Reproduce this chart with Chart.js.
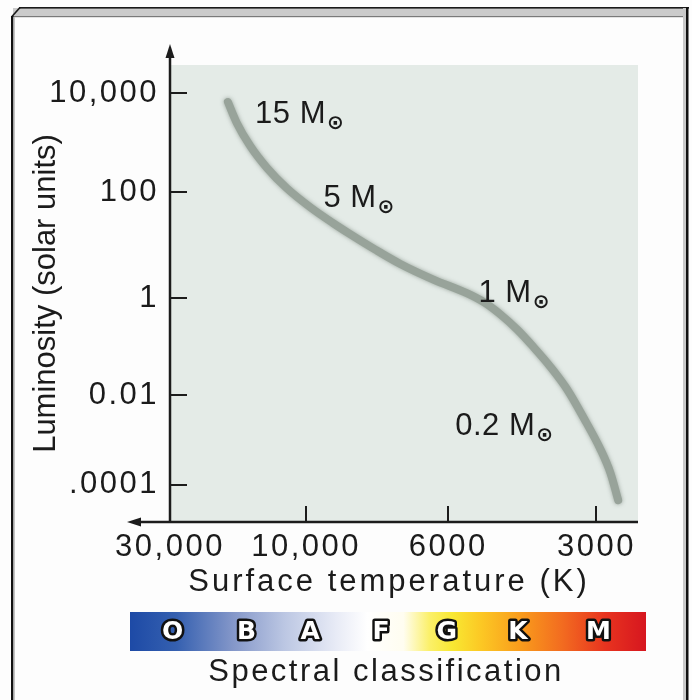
<!DOCTYPE html>
<html><head><meta charset="utf-8">
<script src="https://cdn.jsdelivr.net/npm/chart.js@4/dist/chart.umd.min.js"></script>
<style>html,body{margin:0;padding:0;background:#fdfdfd;}canvas{display:block;}</style>
</head><body>
<canvas id="c" width="692" height="700"></canvas>
<script>
// ---------------- data ----------------
const temperatures = [18800,17500,15700,13700,11700,9860,9080,8540,7800,7130,6330,5490,5090,4700,4340,4030,3720,3440,3190,2940,2810,2710];
const luminosities = [6600,2500,850,305,120,52,26,16.1,8.2,4.4,2.23,1.22,0.83,0.457,0.22,0.098,0.038,0.013,0.0032,0.0006,0.000185,0.000046];
const xTickTemps = [30000,10000,6000,3000];
const xTickLabels = ['30,000','10,000','6000','3000'];
const yTickLums = [10000,100,1,0.01,0.0001];
const yTickLabels = ['10,000','100','1','0.01','.0001'];
const massLabels = ['15','5','1','0.2'];
const spectralClasses = ['O','B','A','F','G','K','M'];

// ---------------- axis transforms (hand-drawn, non-uniform axes) ----------------
function piecewise(ins, outs){
  const n = ins.length, dir = Math.sign(ins[n-1]-ins[0]);
  return v => {
    let i = 0;
    while (i < n-2 && (v - ins[i+1]) * dir > 0) i++;
    const t = (v - ins[i]) / (ins[i+1] - ins[i]);
    return outs[i] + t * (outs[i+1] - outs[i]);
  };
}
const xMap = piecewise(xTickTemps.map(Math.log10), [0, 1, 2.044, 3.132]);
const yMap = piecewise(yTickLums.slice().reverse().map(Math.log10), [0, 0.909, 1.889, 2.960, 3.960]);
const fx = T => xMap(Math.log10(T));
const fy = L => yMap(Math.log10(L));

const FONT = '"Liberation Sans", Arial, sans-serif';
const TXT = '#1b1b1b';

const decor = {
  id: 'decor',
  afterUpdate(chart){
    const s = chart.scales.y;
    if (s && !s._noSpacing){
      const orig = s.drawTitle.bind(s);
      s.drawTitle = function(){ const c=this.ctx; const p=c.letterSpacing; c.letterSpacing='0px'; orig(); c.letterSpacing=p; };
      s._noSpacing = true;
    }
  },
  beforeDraw(chart){
    const {ctx, chartArea:a} = chart;
    ctx.save();
    ctx.fillStyle = '#fdfdfd'; ctx.fillRect(0,0,692,700);
    ctx.fillStyle = '#e4ebe7'; ctx.fillRect(a.left+1, a.top, a.right-a.left-1, a.bottom-a.top);
    ctx.fillStyle = '#cbcbcb'; ctx.fillRect(13,8,675,8);
    ctx.fillStyle = '#1a1a1a'; ctx.fillRect(19,7,670,1.6);
    ctx.strokeStyle = '#1a1a1a'; ctx.lineWidth = 1.6;
    ctx.beginPath(); ctx.moveTo(11.5,17); ctx.lineTo(20,7.5); ctx.stroke();
    ctx.fillStyle = '#7a7a7a'; ctx.fillRect(13,16,673,1.2);
    ctx.fillStyle = '#111'; ctx.fillRect(11,16,2.5,684);
    ctx.fillStyle = '#c4c4c4'; ctx.fillRect(13.5,17,1.5,683);
    ctx.fillStyle = '#c8c8c8'; ctx.fillRect(683,8,3,692);
    ctx.fillStyle = '#111'; ctx.fillRect(686,7,2.5,693);
    ctx.restore();
    ctx.letterSpacing = '2.5px';
  },
  beforeDatasetDraw(chart){
    const ctx = chart.ctx; ctx.save();
    ctx.shadowColor = 'rgba(120,132,122,0.7)'; ctx.shadowBlur = 4;
  },
  afterDatasetDraw(chart){ chart.ctx.restore(); },
  afterDraw(chart, args, o){
    const {ctx, chartArea:a, scales:{x, y}} = chart;
    ctx.save();
    ctx.letterSpacing = '0px';
    ctx.strokeStyle = '#1c1c1c'; ctx.fillStyle = '#1c1c1c'; ctx.lineWidth = 2.5;
    ctx.beginPath(); ctx.moveTo(a.left, a.bottom); ctx.lineTo(a.left, a.top-10); ctx.stroke();
    ctx.beginPath(); ctx.moveTo(a.left, a.top-21); ctx.lineTo(a.left-4.5, a.top-7); ctx.lineTo(a.left+4.5, a.top-7); ctx.closePath(); ctx.fill();
    ctx.beginPath(); ctx.moveTo(a.right, a.bottom); ctx.lineTo(a.left-32, a.bottom); ctx.stroke();
    ctx.beginPath(); ctx.moveTo(a.left-43, a.bottom); ctx.lineTo(a.left-29, a.bottom-4.5); ctx.lineTo(a.left-29, a.bottom+4.5); ctx.closePath(); ctx.fill();
    ctx.lineWidth = 2;
    xTickTemps.forEach((t,i)=>{ if(i===0) return; const px = Math.round(x.getPixelForValue(fx(t)));
      ctx.beginPath(); ctx.moveTo(px, a.bottom); ctx.lineTo(px, a.bottom-16); ctx.stroke(); });
    yTickLums.forEach(l=>{ const py = Math.round(y.getPixelForValue(fy(l)));
      ctx.beginPath(); ctx.moveTo(a.left, py); ctx.lineTo(a.left+17, py); ctx.stroke(); });
    // mass labels
    o.massAnchors.forEach((p,i)=>{
      const px = x.getPixelForValue(fx(p.t)), py = y.getPixelForValue(fy(p.l));
      ctx.font = '31px ' + FONT; ctx.fillStyle = TXT; ctx.textAlign='left'; ctx.textBaseline='alphabetic';
      ctx.letterSpacing = '0.5px';
      const s = massLabels[i] + ' M';
      ctx.fillText(s, px, py);
      const w = ctx.measureText(s).width;
      ctx.letterSpacing = '0px';
      ctx.font = 'bold 20px "DejaVu Sans"';
      ctx.fillText('\u2299', px + w + 1, py + 6);
    });
    // x axis title
    ctx.font = '31px ' + FONT; ctx.fillStyle = TXT; ctx.textAlign='center'; ctx.textBaseline='alphabetic';
    ctx.letterSpacing = '3px';
    ctx.fillText('Surface temperature (K)', 389, 591);
    // spectral bar
    const bx = 130, bw = 516, by = 612, bh = 39;
    const g = ctx.createLinearGradient(bx,0,bx+bw,0);
    [[0,'#1d4aa6'],[0.09,'#3560b0'],[0.2,'#8497c9'],[0.3,'#bcc7e3'],[0.4,'#e8ebf6'],[0.46,'#ffffff'],[0.53,'#fffdf0'],[0.58,'#fbf06a'],[0.625,'#f8e832'],[0.68,'#fcc824'],[0.76,'#f99a1c'],[0.84,'#f26a20'],[0.92,'#e8341f'],[1,'#d6161f']].forEach(s=>g.addColorStop(s[0],s[1]));
    ctx.fillStyle = g; ctx.fillRect(bx,by,bw,bh);
    ctx.font = 'bold 25px "DejaVu Sans"'; ctx.textAlign='center'; ctx.textBaseline='middle';
    ctx.lineJoin = 'round'; ctx.lineWidth = 5; ctx.strokeStyle = '#111'; ctx.fillStyle = '#fff';
    o.spectralTemps.forEach((t,i)=>{
      const px = x.getPixelForValue(fx(t));
      ctx.strokeText(spectralClasses[i], px, by+bh/2+1);
      ctx.fillText(spectralClasses[i], px, by+bh/2+1);
    });
    ctx.font = '31px ' + FONT; ctx.fillStyle = TXT; ctx.textBaseline='alphabetic';
    ctx.letterSpacing = '2.5px';
    ctx.fillText('Spectral classification', 386, 681);
    ctx.restore();
  }
};

new Chart(document.getElementById('c'), {
  type: 'line',
  data: {
    datasets: [{
      data: temperatures.map((t,i)=>({x: fx(t), y: fy(luminosities[i])})),
      borderColor: '#98a39a',
      borderWidth: 8,
      borderCapStyle: 'round',
      borderJoinStyle: 'round',
      pointRadius: 0,
      cubicInterpolationMode: 'monotone',
      fill: false
    }]
  },
  options: {
    responsive: false,
    animation: false,
    devicePixelRatio: 1,
    events: [],
    layout: { padding: { left: 0, right: 54, top: 65, bottom: 0 } },
    plugins: {
      legend: { display: false },
      tooltip: { enabled: false },
      decor: {
        massAnchors: [ {t:15100, l:2480}, {t:9400, l:52}, {t:5210, l:0.83}, {t:5810, l:0.0013} ],
        spectralTemps: [29000, 16000, 9800, 7600, 6000, 4300, 2950]
      }
    },
    scales: {
      x: {
        type: 'linear', position: 'bottom',
        min: fx(30000), max: fx(2470),
        afterBuildTicks: s => { s.ticks = xTickTemps.map(t => ({value: fx(t)})); },
        afterFit: s => { s.height = 178; },
        ticks: { callback: (v,i) => xTickLabels[i], font: {family: FONT, size: 31}, color: TXT, padding: 7, maxRotation: 0, autoSkip: false },
        grid: { display: false, drawTicks: false },
        border: { display: false },
        title: { display: false }
      },
      y: {
        type: 'linear', position: 'left',
        min: fy(1.5e-5), max: fy(37000),
        afterBuildTicks: s => { s.ticks = yTickLums.map(l => ({value: fy(l)})); },
        afterFit: s => { s.width = 170; },
        ticks: { callback: (v,i) => yTickLabels[i], font: {family: FONT, size: 31}, color: TXT, padding: 11, autoSkip: false },
        grid: { display: false, drawTicks: false },
        border: { display: false },
        title: { display: true, text: 'Luminosity (solar units)', font: {family: FONT, size: 31}, color: TXT, padding: {top: 27.7, bottom: 0} }
      }
    }
  },
  plugins: [decor]
});
</script>
</body></html>
